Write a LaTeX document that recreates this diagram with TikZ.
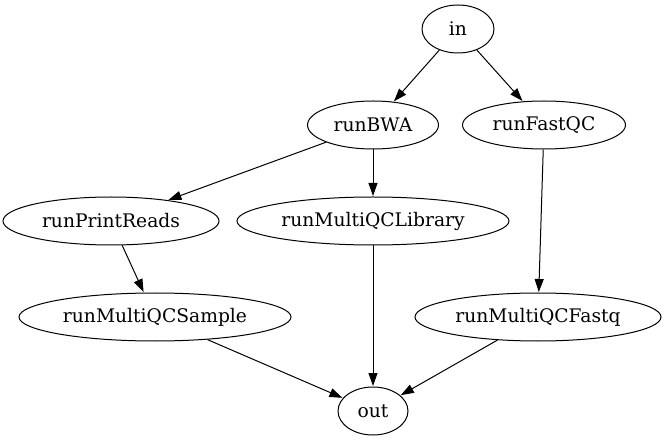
\documentclass[tikz,border=0pt]{standalone}
\usepackage{fontspec}
\setmainfont{DejaVu Serif}
\usetikzlibrary{arrows.meta,shapes.geometric}

\begin{document}
\begin{tikzpicture}[x=1pt, y=-1pt, >={Triangle[length=13pt, width=9pt]},
    task/.style={draw, ellipse, line width=1pt, inner sep=0pt, minimum height=48pt},
    flow/.style={->, line width=1pt, shorten >=0.5pt},
    font=\fontsize{18.7}{22}\selectfont]
    \useasboundingbox (0,0) rectangle (666,443);
    % ranks top to bottom
    \node[task, minimum width=72pt] (in) at (458,29) {in};
    \node[task, minimum width=131pt] (bwa) at (373,125) {runBWA};
    \node[task, minimum width=163pt] (fastqc) at (544,125) {runFastQC};
    \node[task, minimum width=216pt] (reads) at (111,221) {runPrintReads};
    \node[task, minimum width=272pt] (library) at (373,221) {runMultiQCLibrary};
    \node[task, minimum width=272pt] (sample) at (155,317) {runMultiQCSample};
    \node[task, minimum width=246pt] (fastq) at (538,317) {runMultiQCFastq};
    \node[task, minimum width=70pt] (out) at (373,411) {out};
    % edges
    \draw[flow] (in)--(bwa); \draw[flow] (in)--(fastqc);
    \draw[flow] (bwa)--(reads); \draw[flow] (bwa)--(library);
    \draw[flow] (fastqc)--(fastq);
    \draw[flow] (reads)--(sample);
    \draw[flow] (sample)--(out); \draw[flow] (library)--(out); \draw[flow] (fastq)--(out);
\end{tikzpicture}
\end{document}
